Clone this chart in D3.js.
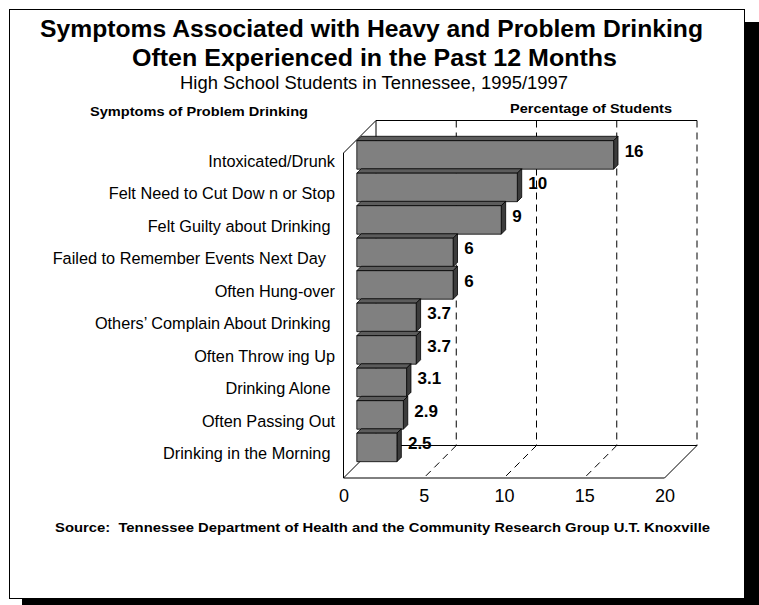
<!DOCTYPE html>
<html>
<head>
<meta charset="utf-8">
<script src="https://cdn.jsdelivr.net/npm/d3@7"></script>
<style>
  body { margin: 0; background: #fff; }
  text { font-family: "Liberation Sans", Arial, Helvetica, sans-serif; white-space: pre; }
</style>
</head>
<body>
<svg id="chart" width="759" height="605"></svg>
<script>
// Symptom categories, top to bottom
const categories = [
  "Intoxicated/Drunk",
  "Felt Need to Cut Dow n or Stop",
  "Felt Guilty about Drinking ",
  "Failed to Remember Events Next Day  ",
  "Often Hung-over",
  "Others’ Complain About Drinking ",
  "Often Throw ing Up",
  "Drinking Alone ",
  "Often Passing Out",
  "Drinking in the Morning "
];
// Percentage of students reporting each symptom
const values = [16, 10, 9, 6, 6, 3.7, 3.7, 3.1, 2.9, 2.5];
// Value axis ticks and gridlines
const tickValues = [0, 5, 10, 15, 20];
const gridValues = [5, 10, 15];

const svg = d3.select("#chart");

// Page frame with its drop shadow
svg.append("rect").attr("x", 22).attr("y", 22).attr("width", 760).attr("height", 620).attr("fill", "#000");
svg.append("rect").attr("x", 9.5).attr("y", 9.5).attr("width", 735).attr("height", 589)
  .attr("fill", "#fff").attr("stroke", "#000").attr("stroke-width", 1);

// Titles and headings, each fitted to its printed width
const label = (txt, cx, yy, size, bold, width) => {
  const t = svg.append("text").attr("x", cx).attr("y", yy).attr("text-anchor", "middle")
    .attr("font-size", size).attr("font-weight", bold ? "bold" : "normal").text(txt);
  if (width) t.attr("textLength", width).attr("lengthAdjust", "spacingAndGlyphs");
  return t;
};
label("Symptoms Associated with Heavy and Problem Drinking", 371.5, 37, 24, true, 663);
label("Often Experienced in the Past 12 Months", 374.5, 66, 24, true, 485);
label("High School Students in Tennessee, 1995/1997", 374, 89, 18, false, 388);
label("Symptoms of Problem Drinking", 199, 116, 13, true, 218);
label("Percentage of Students", 591, 113, 13, true, 162);
label("Source:  Tennessee Department of Health and the Community Research Group U.T. Knoxville", 382.5, 532, 13, true, 655);

// 3D plot geometry: front plane scales plus a depth offset
const x = d3.scaleLinear().domain([0, 20]).range([343.5, 664.5]);
const y = d3.scaleBand().domain(categories).range([153, 478]);
const DX = 32.5, DY = -32.5;
const P = (v, yy, t) => [x(v) + DX * t, yy + DY * t];
const yTop = y.range()[0], yBot = y.range()[1];

const g = svg.append("g");
const seg = (a, b, dashed) => g.append("line")
  .attr("x1", a[0]).attr("y1", a[1]).attr("x2", b[0]).attr("y2", b[1])
  .attr("stroke", "#000").attr("stroke-width", 1)
  .attr("stroke-dasharray", dashed ? "7,5" : null);

// Back wall gridlines and floor gridlines
gridValues.forEach(v => {
  seg(P(v, yTop, 1), P(v, yBot, 1), true);
  seg(P(v, yBot, 1), P(v, yBot, 0), true);
});
seg(P(20, yTop, 1), P(20, yBot, 1), true);
// Wall and floor edges
seg(P(0, yTop, 1), P(20, yTop, 1));
seg(P(0, yTop, 1), P(0, yBot, 1));
seg(P(0, yBot, 1), P(20, yBot, 1));
seg(P(0, yBot, 0), P(20, yBot, 0));
seg(P(0, yBot, 0), P(0, yBot, 1));
seg(P(20, yBot, 0), P(20, yBot, 1));
seg(P(0, yTop, 0), P(0, yBot, 0));
seg(P(0, yTop, 0), P(0, yTop, 1));

// Bars: front, top and side faces
const t0 = 0.41, t1 = 0.545;
const bars = g.selectAll("g.bar").data(categories.map((c, i) => ({ c, v: values[i] })))
  .join("g").attr("class", "bar");
const poly = pts => pts.map(p => p.join(",")).join(" ");
bars.each(function(d) {
  const sel = d3.select(this);
  const yt = y(d.c) + 1, yb = y(d.c) + 29.5;
  sel.append("polygon")
    .attr("points", poly([P(0, yt, t0), P(d.v, yt, t0), P(d.v, yt, t1), P(0, yt, t1)]))
    .attr("fill", "#5c5c5c").attr("stroke", "#000").attr("stroke-width", 0.8);
  sel.append("polygon")
    .attr("points", poly([P(d.v, yt, t0), P(d.v, yt, t1), P(d.v, yb, t1), P(d.v, yb, t0)]))
    .attr("fill", "#3c3c3c").attr("stroke", "#000").attr("stroke-width", 0.8);
  sel.append("polygon")
    .attr("points", poly([P(0, yt, t0), P(d.v, yt, t0), P(d.v, yb, t0), P(0, yb, t0)]))
    .attr("fill", "#808080").attr("stroke", "#000").attr("stroke-width", 0.8);
  // Value label beside the bar
  const front = P(d.v, (yt + yb) / 2, t0);
  sel.append("text")
    .attr("x", front[0] + 11).attr("y", front[1] + 2)
    .attr("font-size", 17).attr("font-weight", "bold")
    .text(d3.format("")(d.v));
});

// Category labels
svg.append("g").selectAll("text").data(categories).join("text")
  .attr("x", 335)
  .attr("y", d => y(d) + y.bandwidth() / 2 - 8.3 + 5.7)
  .attr("text-anchor", "end")
  .attr("font-size", 16.3)
  .text(d => d);

// Value axis along the front floor edge
const axis = svg.append("g").attr("transform", `translate(0,${yBot})`)
  .call(d3.axisBottom(x).tickValues(tickValues).tickSize(0).tickPadding(11));
axis.select(".domain").remove();
axis.selectAll("text")
  .attr("font-size", 18)
  .attr("font-family", "'Liberation Sans', Arial, sans-serif")
  .attr("fill", "#000");
</script>
</body>
</html>
